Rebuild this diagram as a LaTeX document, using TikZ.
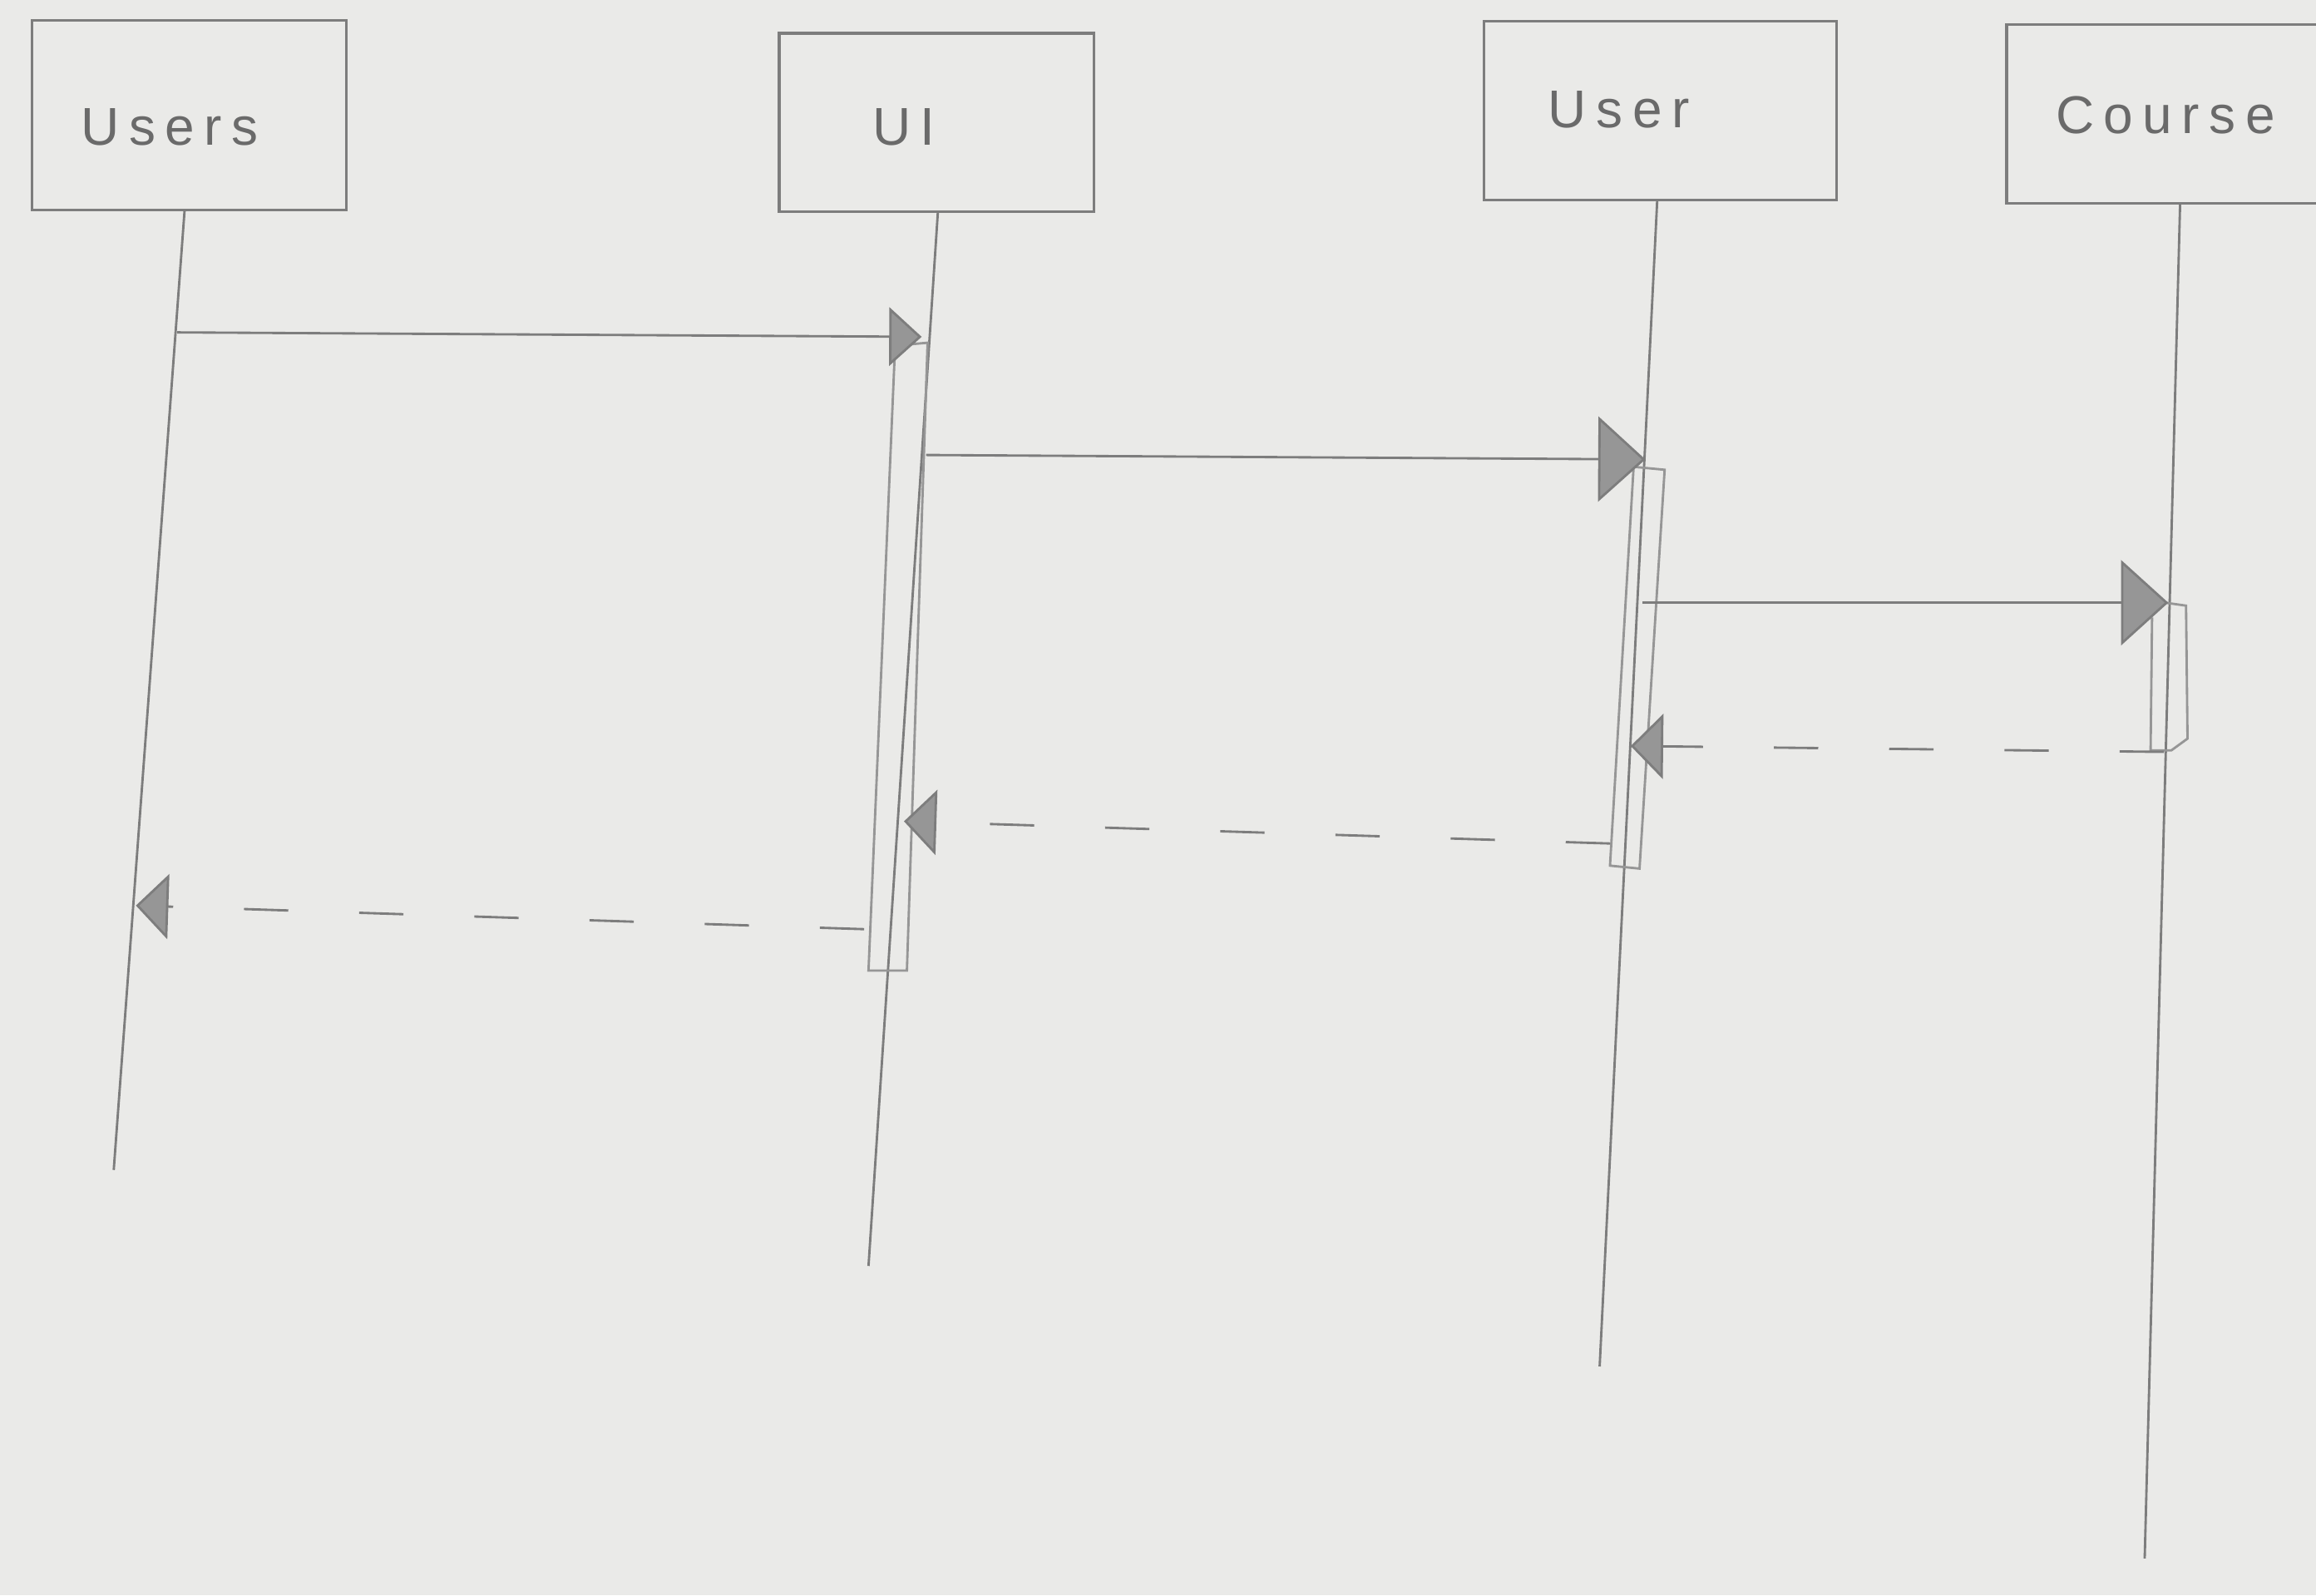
\documentclass[tikz,border=0pt]{standalone}
\usepackage{fontspec}
\newfontfamily\handfont[LetterSpace=18]{Liberation Sans}
\usetikzlibrary{arrows.meta}
\definecolor{paper}{RGB}{234,234,232}
\definecolor{pencil}{RGB}{125,125,125}
\definecolor{lead}{RGB}{150,150,150}
\begin{document}
\begin{tikzpicture}[x=1pt,y=-1pt,
  box/.style={draw=pencil,line width=1.8pt,inner sep=0pt},
  lbl/.style={text=pencil!85!black,font=\handfont\fontsize{36}{40}\selectfont,inner sep=0pt},
  life/.style={draw=pencil,line width=1.6pt},
  act/.style={draw=lead,line width=1.6pt},
  msg/.style={draw=pencil,line width=1.6pt,-{Triangle[length=#1,width=1.8*#1,fill=lead]}},
  ret/.style={draw=pencil,line width=1.6pt,dash pattern=on 30pt off 48pt,-{Triangle[length=#1,width=2*#1,fill=lead]}}]
\fill[paper] (0,0) rectangle (1568,1080);
\useasboundingbox (0,0) rectangle (1568,1080);
% boxes
\node[box,minimum width=213pt,minimum height=128pt] (bUsers) at (128,78) {};
\node[box,minimum width=213pt,minimum height=121pt] (bUI) at (634,83) {};
\node[box,minimum width=239pt,minimum height=121pt] (bUser) at (1124,75) {};
\node[box,minimum width=215pt,minimum height=121pt] (bCourse) at (1466,77) {};
\node[lbl] (tUsers) at (115,86) {Users};
\node[lbl] (tUI) at (612,86) {UI};
\node[lbl] (tUser) at (1096,74) {User};
\node[lbl] (tCourse) at (1466,78) {Course};
% lifelines
\coordinate (uA) at (125,142); \coordinate (uB) at (77,792);
\coordinate (iA) at (635,143); \coordinate (iB) at (588,857);
\coordinate (sA) at (1122,135); \coordinate (sB) at (1083,925);
\coordinate (cA) at (1476,137); \coordinate (cB) at (1452,1055);
\draw[life] (uA) -- (uB);
\draw[life] (iA) -- (iB);
\draw[life] (sA) -- (sB);
\draw[life] (cA) -- (cB);
% activation bars
\draw[act] (606,234) -- (628,232) -- (614,657) -- (588,657) -- cycle;
\draw[act] (1106,316) -- (1127,318) -- (1110,588) -- (1090,586) -- cycle;
\draw[act] (1466,408) -- (1480,410) -- (1481,500) -- (1470,508) -- (1456,508) -- (1457,418);
% messages
\coordinate (m1s) at (120,225); \coordinate (m1e) at (624,228);
\coordinate (m2s) at (627,308); \coordinate (m2e) at (1114,311);
\coordinate (m3s) at (1112,408); \coordinate (m3e) at (1468,408);
\coordinate (r1s) at (1465,509); \coordinate (r1e) at (1104,505);
\coordinate (r2s) at (1090,571); \coordinate (r2e) at (612,556);
\coordinate (r3s) at (585,629); \coordinate (r3e) at (92,613);
\draw[msg=22pt] (m1s) -- (m1e);
\draw[msg=32pt] (m2s) -- (m2e);
\draw[msg=32pt] (m3s) -- (m3e);
\draw[ret=22pt] (r1s) -- (r1e);
\draw[ret=22pt] (r2s) -- (r2e);
\draw[ret=22pt] (r3s) -- (r3e);
\end{tikzpicture}
\end{document}
